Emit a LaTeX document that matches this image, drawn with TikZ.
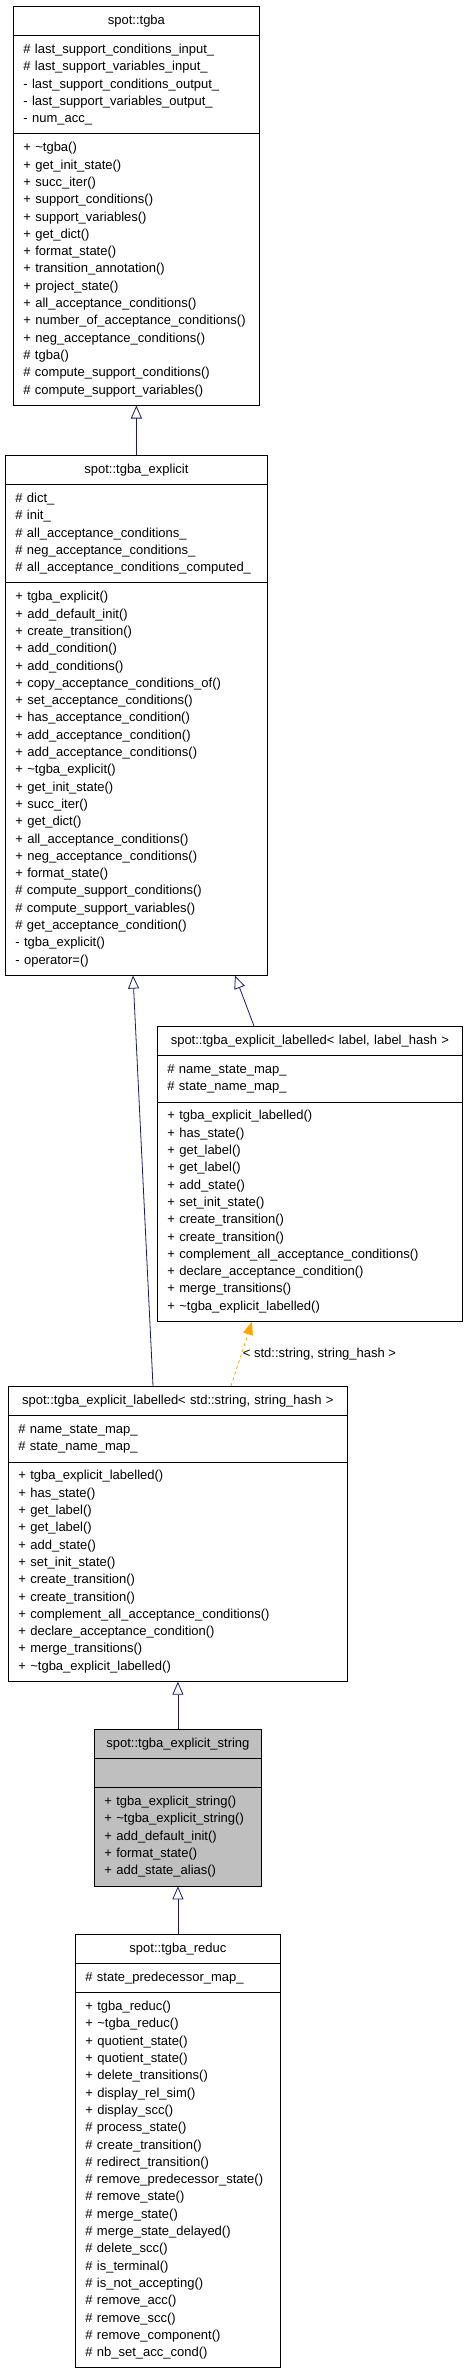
\documentclass[tikz,border=0pt]{standalone}
\usepackage{fontspec}
\setmainfont{Liberation Sans}
\usetikzlibrary{arrows.meta, shapes.multipart}
\definecolor{EdgeBlue}{RGB}{25, 25, 112}
\definecolor{TmplOrange}{RGB}{255, 165, 0}
\definecolor{FocusGray}{RGB}{191, 191, 191}
\setlength{\parindent}{0pt}
\newcommand{\classtitle}[1]{\hbox to \hsize{\hss\strut#1\hss}}

\begin{document}
\begin{tikzpicture}[x=1pt, y=-1pt, font=\fontsize{13}{17.3}\selectfont,
  classbox/.style={draw, line width=0.8pt, fill=white, rectangle split, rectangle split parts=3,
    anchor=north west, align=left, inner xsep=10pt, inner ysep=5.5pt},
  inherit/.style={EdgeBlue, line width=0.8pt, -{Triangle[open, length=13pt, width=11pt]}},
  tmpl/.style={TmplOrange, dashed, line width=0.8pt, -{Triangle[length=13pt, width=10pt]}}]
\useasboundingbox (0,0) rectangle (467,2371);

% classes
\node[classbox, text width=226pt] (tgba) at (13,6) {\classtitle{spot::tgba}%
  \nodepart{two}\strut\# last\_support\_conditions\_input\_\\\strut\# last\_support\_variables\_input\_\\\strut- last\_support\_conditions\_output\_\\\strut- last\_support\_variables\_output\_\\\strut- num\_acc\_
  \nodepart{three}\strut+ \textasciitilde tgba()\\\strut+ get\_init\_state()\\\strut+ succ\_iter()\\\strut+ support\_conditions()\\\strut+ support\_variables()\\\strut+ get\_dict()\\\strut+ format\_state()\\\strut+ transition\_annotation()\\\strut+ project\_state()\\\strut+ all\_acceptance\_conditions()\\\strut+ number\_of\_acceptance\_conditions()\\\strut+ neg\_acceptance\_conditions()\\\strut\# tgba()\\\strut\# compute\_support\_conditions()\\\strut\# compute\_support\_variables()};

\node[classbox, text width=242pt] (explicit) at (5,455) {\classtitle{spot::tgba\_explicit}%
  \nodepart{two}\strut\# dict\_\\\strut\# init\_\\\strut\# all\_acceptance\_conditions\_\\\strut\# neg\_acceptance\_conditions\_\\\strut\# all\_acceptance\_conditions\_computed\_
  \nodepart{three}\strut+ tgba\_explicit()\\\strut+ add\_default\_init()\\\strut+ create\_transition()\\\strut+ add\_condition()\\\strut+ add\_conditions()\\\strut+ copy\_acceptance\_conditions\_of()\\\strut+ set\_acceptance\_conditions()\\\strut+ has\_acceptance\_condition()\\\strut+ add\_acceptance\_condition()\\\strut+ add\_acceptance\_conditions()\\\strut+ \textasciitilde tgba\_explicit()\\\strut+ get\_init\_state()\\\strut+ succ\_iter()\\\strut+ get\_dict()\\\strut+ all\_acceptance\_conditions()\\\strut+ neg\_acceptance\_conditions()\\\strut+ format\_state()\\\strut\# compute\_support\_conditions()\\\strut\# compute\_support\_variables()\\\strut\# get\_acceptance\_condition()\\\strut- tgba\_explicit()\\\strut- operator=()};

\node[classbox, text width=285pt] (labelled) at (157,1026) {\classtitle{spot::tgba\_explicit\_labelled< label, label\_hash >}%
  \nodepart{two}\strut\# name\_state\_map\_\\\strut\# state\_name\_map\_
  \nodepart{three}\strut+ tgba\_explicit\_labelled()\\\strut+ has\_state()\\\strut+ get\_label()\\\strut+ get\_label()\\\strut+ add\_state()\\\strut+ set\_init\_state()\\\strut+ create\_transition()\\\strut+ create\_transition()\\\strut+ complement\_all\_acceptance\_conditions()\\\strut+ declare\_acceptance\_condition()\\\strut+ merge\_transitions()\\\strut+ \textasciitilde tgba\_explicit\_labelled()};

\node[classbox, text width=319pt] (strlabelled) at (8,1386) {\classtitle{spot::tgba\_explicit\_labelled< std::string, string\_hash >}%
  \nodepart{two}\strut\# name\_state\_map\_\\\strut\# state\_name\_map\_
  \nodepart{three}\strut+ tgba\_explicit\_labelled()\\\strut+ has\_state()\\\strut+ get\_label()\\\strut+ get\_label()\\\strut+ add\_state()\\\strut+ set\_init\_state()\\\strut+ create\_transition()\\\strut+ create\_transition()\\\strut+ complement\_all\_acceptance\_conditions()\\\strut+ declare\_acceptance\_condition()\\\strut+ merge\_transitions()\\\strut+ \textasciitilde tgba\_explicit\_labelled()};

\node[classbox, text width=147pt, fill=FocusGray] (expstring) at (94,1729) {\classtitle{spot::tgba\_explicit\_string}%
  \nodepart{two}\strut
  \nodepart{three}\strut+ tgba\_explicit\_string()\\\strut+ \textasciitilde tgba\_explicit\_string()\\\strut+ add\_default\_init()\\\strut+ format\_state()\\\strut+ add\_state\_alias()};

\node[classbox, text width=185pt] (reduc) at (75,1934) {\classtitle{spot::tgba\_reduc}%
  \nodepart{two}\strut\# state\_predecessor\_map\_
  \nodepart{three}\strut+ tgba\_reduc()\\\strut+ \textasciitilde tgba\_reduc()\\\strut+ quotient\_state()\\\strut+ quotient\_state()\\\strut+ delete\_transitions()\\\strut+ display\_rel\_sim()\\\strut+ display\_scc()\\\strut\# process\_state()\\\strut\# create\_transition()\\\strut\# redirect\_transition()\\\strut\# remove\_predecessor\_state()\\\strut\# remove\_state()\\\strut\# merge\_state()\\\strut\# merge\_state\_delayed()\\\strut\# delete\_scc()\\\strut\# is\_terminal()\\\strut\# is\_not\_accepting()\\\strut\# remove\_acc()\\\strut\# remove\_scc()\\\strut\# remove\_component()\\\strut\# nb\_set\_acc\_cond()};

% inheritance
\draw[inherit] (explicit.north) -- (tgba.south);
\draw[inherit] ([xshift=97pt]labelled.north west) -- ([xshift=230pt]explicit.south west);
\draw[inherit] ([xshift=145pt]strlabelled.north west) -- ([xshift=128pt]explicit.south west);
\draw[tmpl] ([xshift=223pt]strlabelled.north west) -- ([xshift=95pt]labelled.south west)
  node[pos=0.5, right, text=black, inner sep=1pt] (targs) {< std::string, string\_hash >};
\draw[inherit] (expstring.north) -- (strlabelled.south);
\draw[inherit] (reduc.north) -- (expstring.south);
\end{tikzpicture}
\end{document}
